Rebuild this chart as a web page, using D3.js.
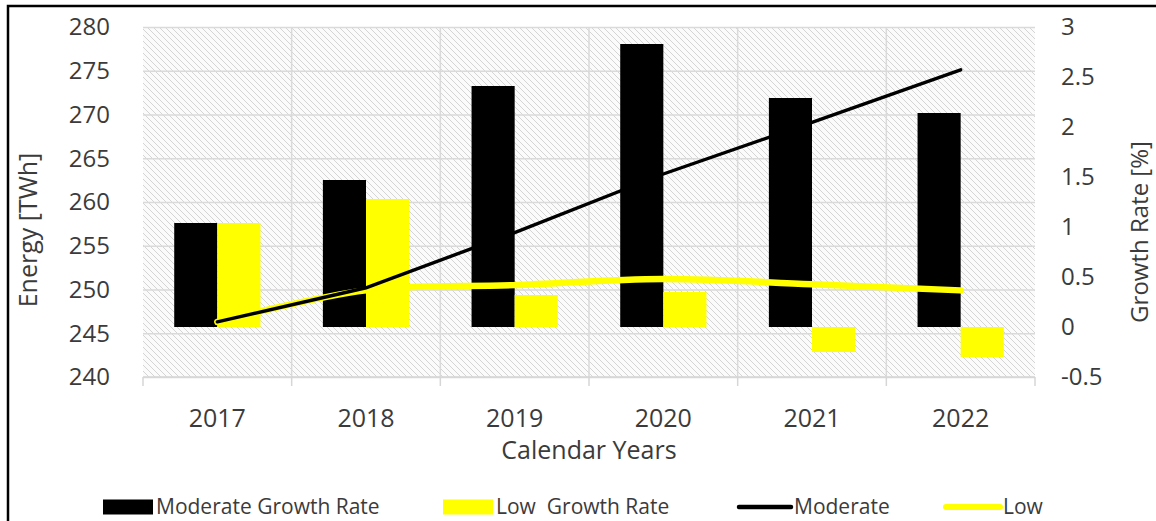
<!DOCTYPE html>
<html>
<head>
<meta charset="utf-8">
<script src="https://cdn.jsdelivr.net/npm/d3@7"></script>
<style>
  html, body { margin: 0; padding: 0; background: #fff; }
  svg { display: block; font-family: "Open Sans", "DejaVu Sans", sans-serif; }
</style>
</head>
<body>
<svg id="chart" width="1156" height="521"></svg>
<script>
// Calendar years on the category axis
const years = ["2017", "2018", "2019", "2020", "2021", "2022"];

// Annual growth rate [%] (right axis, bars)
const moderateGrowth = [1.04, 1.47, 2.41, 2.83, 2.29, 2.14];
const lowGrowth      = [1.04, 1.28, 0.32, 0.35, -0.25, -0.30];

// Energy demand [TWh] (left axis, lines)
const moderateEnergy = [246.3, 250.2, 256.5, 263.2, 269.1, 275.1];
const lowEnergy      = [246.3, 249.9, 250.5, 251.2, 250.6, 249.9];

// Axis ticks
const energyTicks = [240, 245, 250, 255, 260, 265, 270, 275, 280];
const growthTicks = [-0.5, 0, 0.5, 1, 1.5, 2, 2.5, 3];
const growthTickLabels = ["-0.5", "0", "0.5", "1", "1.5", "2", "2.5", "3"];

const svg = d3.select("#chart");
const plot = { left: 143, right: 1035, top: 27, bottom: 377 };
const textColor = "#3b3b3b";

const x = d3.scaleBand().domain(years).range([plot.left, plot.right]).padding(0);
const yEnergy = d3.scaleLinear().domain([240, 280]).range([plot.bottom, plot.top]);
const yGrowth = d3.scaleLinear().domain([-0.5, 3]).range([plot.bottom, plot.top]);
const barW = x.bandwidth() * 0.29;

// Outer frame
svg.append("rect")
  .attr("x", 8).attr("y", 6).attr("width", 1170).attr("height", 540)
  .attr("fill", "none").attr("stroke", "#000").attr("stroke-width", 2.5);

// Diagonal hatch fill of the plot area
const defs = svg.append("defs");
const pat = defs.append("pattern")
  .attr("id", "hatch").attr("patternUnits", "userSpaceOnUse")
  .attr("width", 6).attr("height", 6);
pat.append("rect").attr("width", 6).attr("height", 6).attr("fill", "#fbfbfb");
pat.append("path")
  .attr("d", "M-1,-1L7,7M-1,5L1,7M5,-1L7,1")
  .attr("stroke", "#cfcfcf").attr("stroke-width", 0.9);

svg.append("rect")
  .attr("x", plot.left).attr("y", plot.top)
  .attr("width", plot.right - plot.left).attr("height", plot.bottom - plot.top)
  .attr("fill", "url(#hatch)");

// Horizontal gridlines (left axis)
svg.append("g")
  .attr("transform", `translate(${plot.left},0)`)
  .call(d3.axisLeft(yEnergy).tickValues(energyTicks)
    .tickSize(-(plot.right - plot.left)).tickFormat(""))
  .call(g => g.select(".domain").remove())
  .call(g => g.selectAll("line").attr("stroke", "#dadada").attr("stroke-width", 1.5));

// Vertical gridlines at category boundaries
const bounds = years.map(d => x(d)).concat([plot.right]);
svg.append("g").selectAll("line").data(bounds.slice(1, -1)).join("line")
  .attr("x1", d => d).attr("x2", d => d)
  .attr("y1", plot.top).attr("y2", plot.bottom)
  .attr("stroke", "#dadada").attr("stroke-width", 1.5);

// Category axis baseline and boundary ticks
svg.append("line")
  .attr("x1", plot.left).attr("x2", plot.right)
  .attr("y1", plot.bottom).attr("y2", plot.bottom)
  .attr("stroke", "#d6d6d6").attr("stroke-width", 1.5);
svg.append("g").selectAll("line").data(bounds).join("line")
  .attr("x1", d => d).attr("x2", d => d)
  .attr("y1", plot.bottom).attr("y2", plot.bottom + 9)
  .attr("stroke", "#d6d6d6").attr("stroke-width", 1.5);

// Growth-rate bars
const barsG = svg.append("g");
barsG.selectAll(".mod").data(years).join("rect")
  .attr("x", d => x(d) + x.bandwidth() / 2 - barW)
  .attr("width", barW)
  .attr("y", (d, i) => yGrowth(Math.max(0, moderateGrowth[i])))
  .attr("height", (d, i) => Math.abs(yGrowth(moderateGrowth[i]) - yGrowth(0)))
  .attr("fill", "#000");
barsG.selectAll(".low").data(years).join("rect")
  .attr("x", d => x(d) + x.bandwidth() / 2)
  .attr("width", barW)
  .attr("y", (d, i) => yGrowth(Math.max(0, lowGrowth[i])))
  .attr("height", (d, i) => Math.abs(yGrowth(lowGrowth[i]) - yGrowth(0)))
  .attr("fill", "#ffff00");

// Energy lines
const cx = d => x(d) + x.bandwidth() / 2;
const lowLine = d3.line().x((d, i) => cx(years[i])).y(d => yEnergy(d)).curve(d3.curveCatmullRom.alpha(0.5));
const modLine = d3.line().x((d, i) => cx(years[i])).y(d => yEnergy(d));
svg.append("path").attr("d", lowLine(lowEnergy))
  .attr("fill", "none").attr("stroke", "#ffff00").attr("stroke-width", 6.5).attr("stroke-linecap", "round");
svg.append("path").attr("d", modLine(moderateEnergy))
  .attr("fill", "none").attr("stroke", "#000").attr("stroke-width", 3.4).attr("stroke-linecap", "round");

// Left axis labels
svg.append("g").selectAll("text").data(energyTicks).join("text")
  .attr("x", 110).attr("y", d => yEnergy(d))
  .attr("dy", "0.35em").attr("text-anchor", "end")
  .attr("font-size", 24).attr("fill", textColor)
  .text(d => d);

// Right axis labels
svg.append("g").selectAll("text").data(growthTicks).join("text")
  .attr("x", 1061).attr("y", d => yGrowth(d))
  .attr("dy", "0.35em").attr("text-anchor", "start")
  .attr("font-size", 24).attr("fill", textColor)
  .text((d, i) => growthTickLabels[i]);

// Category labels
svg.append("g").selectAll("text").data(years).join("text")
  .attr("x", d => cx(d)).attr("y", 427)
  .attr("text-anchor", "middle")
  .attr("font-size", 25).attr("fill", textColor)
  .text(d => d);

// Axis titles
svg.append("text")
  .attr("x", (plot.left + plot.right) / 2).attr("y", 459)
  .attr("text-anchor", "middle").attr("font-size", 25).attr("fill", textColor)
  .text("Calendar Years");
svg.append("text")
  .attr("transform", "translate(37,230) rotate(-90)")
  .attr("text-anchor", "middle").attr("font-size", 25).attr("fill", textColor)
  .text("Energy [TWh]");
svg.append("text")
  .attr("transform", "translate(1148,232) rotate(-90)")
  .attr("text-anchor", "middle").attr("font-size", 24).attr("fill", textColor)
  .text("Growth Rate [%]");

// Legend
const legendY = 507;
const legendItems = [
  { kind: "rect", color: "#000",    x0: 103, x1: 153, label: "Moderate Growth Rate" },
  { kind: "rect", color: "#ffff00", x0: 443, x1: 493, label: "Low  Growth Rate" },
  { kind: "line", color: "#000",    x0: 739, x1: 791, label: "Moderate", w: 4.5 },
  { kind: "line", color: "#ffff00", x0: 946, x1: 1000, label: "Low", w: 6 }
];
const lg = svg.append("g");
legendItems.forEach(it => {
  if (it.kind === "rect") {
    lg.append("rect").attr("x", it.x0).attr("y", legendY - 7.5)
      .attr("width", it.x1 - it.x0).attr("height", 15).attr("fill", it.color);
  } else {
    lg.append("line").attr("x1", it.x0).attr("x2", it.x1)
      .attr("y1", legendY).attr("y2", legendY)
      .attr("stroke", it.color).attr("stroke-width", it.w).attr("stroke-linecap", "round");
  }
  lg.append("text").attr("x", it.x1 + 3).attr("y", legendY).attr("dy", "0.35em")
    .attr("font-size", 21).attr("fill", textColor)
    .attr("xml:space", "preserve").style("white-space", "pre")
    .text(it.label);
});
</script>
</body>
</html>
